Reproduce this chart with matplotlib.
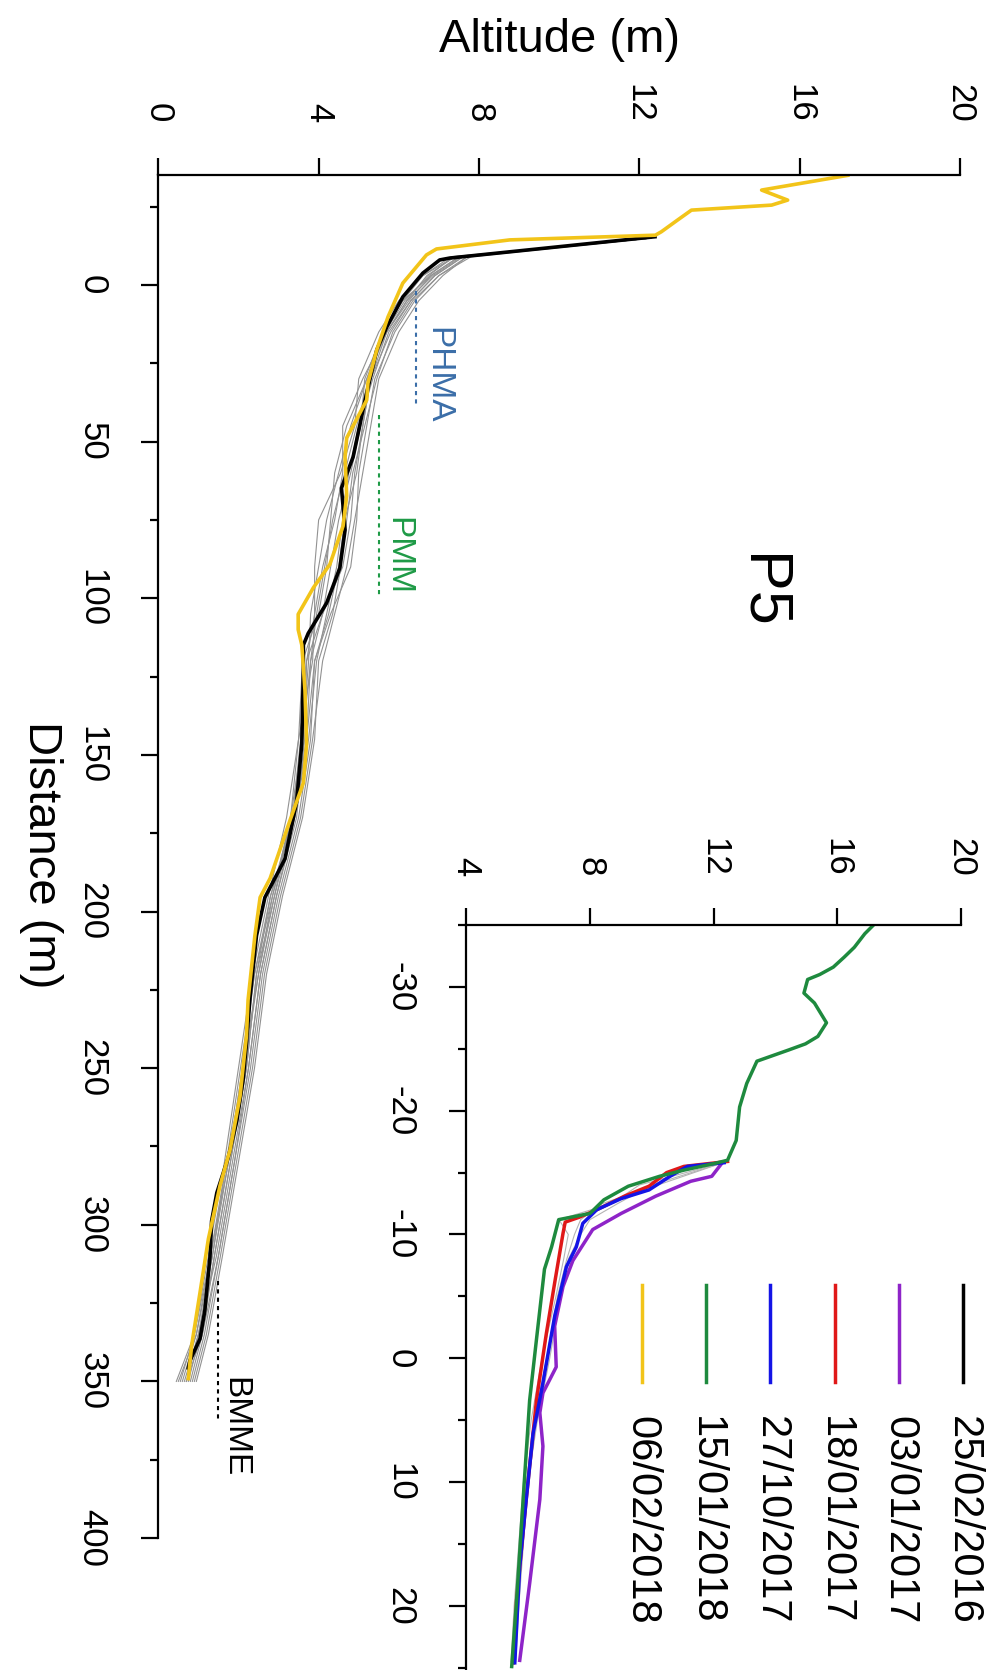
import matplotlib.pyplot as plt

plt.rcParams['font.family'] = ['Liberation Sans', 'DejaVu Sans']
plt.rcParams['axes.unicode_minus'] = False

# ---- profil P5 : distance (m) / altitude (m) ----
# 25/02/2016 (noir)
dist_black = [-15.4, -8.6, -8.0, -3.8, 3.8, 13.4, 20.7, 36.7, 54.9, 64.8, 78.2, 90.3, 101.5,
              111.2, 114.9, 122.2, 146.5, 165.0, 183.2, 195.5, 207.7, 227.3, 241.9, 253.3,
              266.8, 278.3, 289.8, 298.8, 310.2, 327.5, 336.4, 343.4, 345.7]
alt_black = [12.39, 7.27, 7.02, 6.60, 6.10, 5.70, 5.45, 5.16, 4.86, 4.57, 4.66, 4.53, 4.20,
             3.74, 3.62, 3.62, 3.58, 3.45, 3.16, 2.66, 2.45, 2.29, 2.20, 2.12,
             1.96, 1.75, 1.46, 1.33, 1.29, 1.16, 1.04, 0.79, 0.75]

# 06/02/2018 (jaune)
dist_yellow = [-35.0, -30.3, -27.1, -25.5, -23.9, -20.7, -17.0, -15.9, -14.4, -11.5, -9.6, -0.6,
               10.2, 20.7, 31.3, 36.7, 42.8, 48.8, 54.9, 67.3, 76.9, 89.2, 96.6, 105.1, 110.0,
               114.9, 129.5, 146.6, 158.9, 171.1, 189.4, 195.5, 207.7, 228.2, 239.6, 258.9,
               276.1, 287.5, 304.5, 321.7, 338.7, 349.1]
alt_yellow = [17.2, 15.05, 15.7, 15.3, 13.3, 12.95, 12.55, 12.4, 8.77, 6.94, 6.69, 6.10,
              5.73, 5.45, 5.23, 5.20, 4.95, 4.70, 4.66, 4.70, 4.61, 4.28, 3.87, 3.49, 3.49,
              3.58, 3.66, 3.70, 3.62, 3.28, 2.79, 2.54, 2.41, 2.24, 2.20, 2.04,
              1.79, 1.54, 1.25, 1.04, 0.83, 0.75]

# autres levés (gris)
dist_grey = [-15, -9, -3, 5, 15, 30, 45, 60, 75, 90, 105, 120, 145, 170, 195, 220, 250, 280, 310, 335, 350]
grey1 = [12.3, 7.6, 6.9, 6.3, 5.8, 5.3, 5.1, 4.9, 4.8, 4.6, 4.1, 3.8, 3.7, 3.4, 2.8, 2.45, 2.2, 1.8, 1.4, 1.1, 0.8]
grey2 = [12.3, 7.4, 6.7, 6.2, 5.7, 5.2, 4.8, 4.5, 4.2, 4.0, 3.8, 3.75, 3.6, 3.3, 2.9, 2.5, 2.15, 1.7, 1.35, 0.95, 0.6]
grey3 = [12.3, 7.8, 7.0, 6.4, 5.9, 5.4, 5.2, 5.0, 4.95, 4.8, 4.3, 3.9, 3.8, 3.5, 3.0, 2.6, 2.3, 1.9, 1.5, 1.15, 0.85]
grey4 = [12.3, 7.3, 6.6, 6.0, 5.5, 5.0, 4.9, 4.55, 4.0, 3.9, 3.9, 3.85, 3.5, 3.2, 2.75, 2.35, 2.0, 1.65, 1.25, 0.9, 0.55]
grey5 = [12.3, 7.5, 6.8, 6.1, 5.6, 5.15, 5.05, 4.8, 4.5, 4.3, 4.1, 3.7, 3.65, 3.45, 2.95, 2.55, 2.25, 1.85, 1.45, 1.0, 0.7]
grey6 = [12.3, 7.7, 7.1, 6.5, 6.0, 5.5, 5.3, 5.1, 4.9, 4.7, 4.4, 4.1, 3.85, 3.55, 3.05, 2.65, 2.35, 1.95, 1.55, 1.2, 0.9]
grey7 = [12.3, 7.4, 6.6, 6.1, 5.6, 5.2, 4.7, 4.4, 4.3, 4.2, 4.0, 3.6, 3.5, 3.3, 2.85, 2.5, 2.1, 1.75, 1.3, 0.95, 0.5]
grey8 = [12.3, 7.6, 6.9, 6.3, 5.75, 5.35, 5.0, 4.75, 4.6, 4.45, 4.2, 3.95, 3.75, 3.4, 2.9, 2.45, 2.2, 1.8, 1.4, 1.05, 0.75]
grey9 = [12.3, 7.5, 6.8, 6.25, 5.7, 5.1, 4.6, 4.6, 4.4, 4.1, 3.9, 3.7, 3.55, 3.35, 2.8, 2.4, 2.05, 1.7, 1.3, 0.9, 0.45]
grey10 = [12.3, 7.7, 7.0, 6.35, 5.85, 5.45, 5.15, 4.85, 4.7, 4.55, 4.35, 4.0, 3.9, 3.6, 3.1, 2.7, 2.4, 2.0, 1.6, 1.25, 0.95]
grey11 = [12.3, 7.35, 6.75, 6.15, 5.65, 5.25, 4.95, 4.65, 4.35, 4.15, 3.95, 3.8, 3.6, 3.35, 2.85, 2.4, 2.1, 1.75, 1.35, 1.0, 0.65]
grey12 = [12.3, 7.55, 6.85, 6.2, 5.7, 5.3, 5.1, 4.95, 4.65, 4.5, 4.25, 3.9, 3.7, 3.4, 2.95, 2.55, 2.25, 1.9, 1.5, 1.1, 0.7]
greys = [grey1, grey2, grey3, grey4, grey5, grey6, grey7, grey8, grey9, grey10, grey11, grey12]

# ---- zoom (encart) ----
dist_green = [-35.0, -34.3, -33.2, -32.4, -31.6, -31.0, -30.6, -29.5, -28.7, -27.1, -26.0, -25.4,
              -24.9, -24.0, -22.2, -20.3, -17.6, -16.0, -15.75, -15.2, -14.7, -13.9, -12.8,
              -11.7, -11.2, -9.0, -7.2, -1.5, 3.4, 11.4, 19.5, 24.9]
alt_green = [17.17, 16.89, 16.55, 16.22, 15.87, 15.43, 15.04, 14.92, 15.26, 15.65, 15.37, 14.97,
             14.42, 13.40, 13.07, 12.84, 12.73, 12.45, 12.05, 11.04, 10.25, 9.24, 8.45,
             8.0, 6.99, 6.76, 6.53, 6.27, 6.05, 5.84, 5.63, 5.47]
dist_red = [-15.9, -15.5, -15.0, -13.9, -13.1, -12.0, -11.4, -11.0, -10.1, -6.1, -2.0, 3.4, 11.4, 19.5, 24.6]
alt_red = [12.45, 11.04, 10.48, 9.91, 9.12, 8.22, 7.66, 7.2, 7.13, 6.86, 6.59, 6.27, 5.94, 5.63, 5.52]
dist_blue = [-15.8, -15.5, -14.7, -13.6, -12.9, -12.0, -10.9, -9.0, -7.4, -3.4, 2.0, 6.1, 11.4, 16.8, 24.6]
alt_blue = [12.34, 11.15, 10.59, 9.91, 9.01, 8.22, 7.77, 7.56, 7.24, 6.86, 6.48, 6.16, 5.94, 5.73, 5.57]
dist_purple = [-15.8, -14.7, -14.3, -13.1, -11.7, -10.4, -7.9, -5.8, -2.6, 0.7, 2.8, 4.4, 7.1, 11.4, 18.2, 24.4]
alt_purple = [12.28, 11.94, 11.26, 10.13, 9.01, 8.09, 7.45, 7.13, 6.86, 6.91, 6.48, 6.38, 6.48, 6.38, 6.05, 5.73]

dist_grey_in = [-15.8, -14.0, -12.5, -11.2, -10.0, -8.0, -5.0, 0.0, 5.0, 10.0, 15.0, 20.0, 24.5]
grey_in1 = [12.3, 9.6, 8.7, 7.0, 7.3, 7.15, 6.9, 6.45, 6.1, 5.85, 5.7, 5.55, 5.45]
grey_in2 = [12.3, 10.2, 8.4, 7.7, 7.5, 7.25, 6.95, 6.6, 6.2, 5.95, 5.75, 5.6, 5.5]
grey_in3 = [12.3, 10.0, 8.9, 8.0, 7.7, 7.3, 7.05, 6.7, 6.3, 6.0, 5.85, 5.7, 5.6]

dates = ['25/02/2016', '03/01/2017', '18/01/2017', '27/10/2017', '15/01/2018', '06/02/2018']
date_colors = ['black', '#8e24c8', '#e01818', '#1414e6', '#1e8a3e', '#f2c419']

# limites morphologiques
zone_names = ['PHMA', 'PMM', 'BMME']
zone_colors = ['#3b6ea8', '#1e9a46', 'black']
zone_alt = [6.44, 5.51, 1.50]
zone_start = [2.0, 41.5, 318.0]
zone_end = [39.0, 99.5, 363.0]
label_alt = [6.96, 5.98, 1.91]
label_dist = [28.7, 86.5, 364.5]

fig = plt.figure(figsize=(9.88, 16.70), dpi=100)

# ---------- graphique principal ----------
ax = fig.add_axes([0.1602, 0.0790, 0.8115, 0.8160])
for g in greys:
    ax.plot(g, dist_grey, color='#929292', lw=0.8)
ax.plot(alt_black, dist_black, color='black', lw=2.6)
ax.plot(alt_yellow, dist_yellow, color='#f2c419', lw=2.6)

for i in range(len(zone_names)):
    ax.plot([zone_alt[i], zone_alt[i]], [zone_start[i], zone_end[i]],
            color=zone_colors[i], lw=1.5, ls=(0, (2, 2)))
    ax.text(label_alt[i], label_dist[i], zone_names[i], color=zone_colors[i],
            fontsize=24, rotation=-90, ha='center', va='center')

ax.text(15.03, 97.7, 'P5', fontsize=44, rotation=-90, ha='center', va='center')

ax.set_xlim(0, 20)
ax.set_ylim(400, -35)
ax.spines['right'].set_visible(False)
ax.spines['bottom'].set_visible(False)
ax.spines['left'].set_linewidth(1.6)
ax.spines['top'].set_linewidth(1.6)
ax.xaxis.tick_top()
ax.set_xticks([0, 4, 8, 12, 16, 20])
ax.set_yticks(range(0, 401, 50))
ax.set_yticks(range(-25, 400, 50), minor=True)
ax.tick_params(axis='both', which='major', direction='out', length=12, width=1.6,
               labelsize=25, labelrotation=-90)
ax.tick_params(axis='y', which='minor', direction='out', length=6, width=1.6)
ax.tick_params(axis='x', pad=26)
ax.tick_params(axis='y', pad=24)
for lab in ax.get_yticklabels():
    lab.set_va('center')

fig.text(0.5658, 0.976, 'Altitude (m)', fontsize=34, ha='center', va='center')
fig.text(0.042, 0.488, 'Distance (m)', fontsize=34, rotation=-90, ha='center', va='center')

# ---------- encart ----------
axin = fig.add_axes([0.4719, 0.0, 0.5008, 0.4461])
for g in [grey_in1, grey_in2, grey_in3]:
    axin.plot(g, dist_grey_in, color='#b4b4b4', lw=0.8)
axin.plot(alt_purple, dist_purple, color=date_colors[1], lw=2.5)
axin.plot(alt_red, dist_red, color=date_colors[2], lw=2.5)
axin.plot(alt_blue, dist_blue, color=date_colors[3], lw=2.5)
axin.plot(alt_green, dist_green, color=date_colors[4], lw=2.5)

axin.set_xlim(4, 20)
axin.set_ylim(25.18, -35)
axin.spines['right'].set_visible(False)
axin.spines['bottom'].set_visible(False)
axin.spines['left'].set_linewidth(1.6)
axin.spines['top'].set_linewidth(1.6)
axin.xaxis.tick_top()
axin.set_xticks([4, 8, 12, 16, 20])
axin.set_yticks([-30, -20, -10, 0, 10, 20])
axin.set_yticks([-35, -25, -15, -5, 5, 15, 25], minor=True)
axin.tick_params(axis='both', which='major', direction='out', length=12, width=1.6,
                 labelsize=25, labelrotation=-90)
axin.tick_params(axis='y', which='minor', direction='out', length=6, width=1.6)
axin.tick_params(axis='x', pad=23)
axin.tick_params(axis='y', pad=24)
for lab in axin.get_yticklabels():
    lab.set_va('center')

# légende (verticale)
for i in range(len(dates)):
    xl = 1.0047 - 0.13 * i
    axin.plot([xl, xl], [0.517, 0.387], color=date_colors[i], lw=2.5,
              transform=axin.transAxes, clip_on=False)
    axin.text(xl, 0.341, dates[i], fontsize=30, rotation=-90, ha='center', va='top',
              transform=axin.transAxes)

fig.savefig('out.png', dpi=100)
